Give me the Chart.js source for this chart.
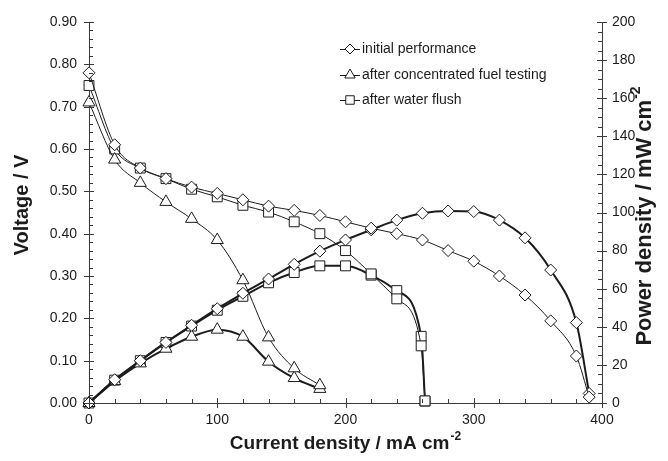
<!DOCTYPE html>
<html>
<head>
<meta charset="utf-8">
<script src="https://cdn.jsdelivr.net/npm/chart.js@4.4.0/dist/chart.umd.min.js"></script>
<style>
  html, body { margin: 0; padding: 0; background: #fff; }
  canvas { display: block; }
</style>
</head>
<body>
<canvas id="fcChart" width="668" height="461"></canvas>
<script>
// Courbes de polarisation et de puissance
const initialCurrent = [0, 20, 40, 60, 80, 100, 120, 140, 160, 180, 200, 220, 240, 260, 280, 300, 320, 340, 360, 380, 390];
const initialVoltage = [0.78, 0.61, 0.555, 0.53, 0.51, 0.495, 0.48, 0.465, 0.455, 0.443, 0.428, 0.413, 0.40, 0.385, 0.36, 0.335, 0.30, 0.255, 0.194, 0.111, 0.014];
const initialPower = [0, 12.2, 22.2, 31.8, 40.8, 49.5, 57.6, 65.1, 72.8, 79.7, 85.6, 90.9, 96, 99.6, 100.8, 100.5, 96, 86.7, 69.8, 42.2, 5.0];

const fuelCurrent = [0, 20, 40, 60, 80, 100, 120, 140, 160, 180];
const fuelVoltage = [0.71, 0.575, 0.52, 0.475, 0.435, 0.385, 0.29, 0.155, 0.082, 0.042];
const fuelPower = [0, 11.5, 20.8, 28.5, 34.8, 38.5, 34.8, 21.7, 13.1, 7.4];

const waterCurrent = [0, 20, 40, 60, 80, 100, 120, 140, 160, 180, 200, 220, 240, 259, 262];
const waterVoltage = [0.75, 0.60, 0.555, 0.53, 0.505, 0.487, 0.467, 0.451, 0.428, 0.40, 0.36, 0.305, 0.246, 0.135, 0.005];
const waterPower = [0, 12, 22.2, 31.8, 40.4, 48.7, 56, 63.1, 68.5, 72, 72, 67.1, 59, 35, 1];

const seriesNames = ['initial performance', 'after concentrated fuel testing', 'after water flush'];
const seriesMarkers = ['rectRot', 'triangle', 'rect'];
const markerRadius = { rectRot: 6, triangle: 7, rect: 7 };

const xTitle = ['Current density / mA cm', '-2'];
const yTitle = ['Voltage / V', ''];
const y2Title = ['Power density / mW cm', '-2'];

const ink = '#1c1c1c';
const axisColor = '#3a3a3a';
const tickFont = { family: '"Liberation Sans", Arial, sans-serif', size: 14 };

function pts(xs, ys) {
    return xs.map((x, i) => ({ x: x, y: ys[i] }));
}

function makeSet(xs, ys, marker, axis, width) {
    return {
        data: pts(xs, ys),
        yAxisID: axis,
        showLine: true,
        clip: false,
        borderColor: ink,
        borderWidth: width,
        cubicInterpolationMode: 'monotone',
        pointStyle: marker,
        pointRadius: markerRadius[marker],
        pointBackgroundColor: '#fff',
        pointBorderColor: ink,
        pointBorderWidth: 1,
        order: axis === 'y2' ? 2 : 1
    };
}

// Petits traits de graduation (majeurs et mineurs)
const ticksPlugin = {
    id: 'axisTicks',
    afterDraw(chart) {
        const ctx = chart.ctx;
        const area = chart.chartArea;
        const defs = [
            { id: 'x', minor: 20, major: 100 },
            { id: 'y', minor: 0.02, major: 0.1 },
            { id: 'y2', minor: 5, major: 20 }
        ];
        ctx.save();
        ctx.strokeStyle = axisColor;
        ctx.lineWidth = 1;
        defs.forEach(d => {
            const s = chart.scales[d.id];
            const n = Math.round((s.max - s.min) / d.minor);
            for (let i = 0; i <= n; i++) {
                const v = s.min + i * d.minor;
                const isMajor = Math.abs(v / d.major - Math.round(v / d.major)) < 1e-6;
                const inner = isMajor ? 5 : 4;
                const outer = isMajor ? 5 : 0;
                const p = Math.round(s.getPixelForValue(v)) + 0.5;
                ctx.beginPath();
                if (d.id === 'x') {
                    ctx.moveTo(p, area.bottom - inner);
                    ctx.lineTo(p, area.bottom + outer);
                } else if (d.id === 'y') {
                    ctx.moveTo(area.left + inner, p);
                    ctx.lineTo(area.left - outer, p);
                } else {
                    ctx.moveTo(area.right - inner, p);
                    ctx.lineTo(area.right + outer, p);
                }
                ctx.stroke();
            }
        });
        ctx.restore();
    }
};

// Titres des axes avec exposant
function drawTitle(ctx, parts, x, y, angle, size) {
    ctx.save();
    ctx.translate(x, y);
    ctx.rotate(angle);
    ctx.fillStyle = ink;
    ctx.textBaseline = 'middle';
    const mainFont = 'bold ' + size + 'px "Liberation Sans", Arial, sans-serif';
    const supFont = 'bold ' + Math.round(size * 0.62) + 'px "Liberation Sans", Arial, sans-serif';
    ctx.font = mainFont;
    const w1 = ctx.measureText(parts[0]).width;
    ctx.font = supFont;
    const w2 = parts[1] ? ctx.measureText(parts[1]).width + 1 : 0;
    const start = -(w1 + w2) / 2;
    ctx.font = mainFont;
    ctx.textAlign = 'left';
    ctx.fillText(parts[0], start, 0);
    if (parts[1]) {
        ctx.font = supFont;
        ctx.fillText(parts[1], start + w1 + 1, -size * 0.38);
    }
    ctx.restore();
}

const titlesPlugin = {
    id: 'axisTitles',
    afterDraw(chart) {
        const ctx = chart.ctx;
        const a = chart.chartArea;
        drawTitle(ctx, xTitle, (a.left + a.right) / 2, 444, 0, 19);
        drawTitle(ctx, yTitle, 22, 205, -Math.PI / 2, 20);
        drawTitle(ctx, y2Title, 645, 216, -Math.PI / 2, 22);
    }
};

// Légende : trait + symbole
const legendPlugin = {
    id: 'lineLegend',
    afterDraw(chart) {
        const ctx = chart.ctx;
        const lx = 350;
        const ys = [49, 75, 100];
        ctx.save();
        seriesNames.forEach((name, i) => {
            const y = ys[i];
            ctx.strokeStyle = ink;
            ctx.lineWidth = 1;
            ctx.beginPath();
            ctx.moveTo(lx - 10, y + 0.5);
            ctx.lineTo(lx + 10, y + 0.5);
            ctx.stroke();
            ctx.fillStyle = '#fff';
            const m = seriesMarkers[i];
            Chart.helpers.drawPoint(ctx, { pointStyle: m, radius: markerRadius[m] - 1, borderWidth: 1 }, lx, y);
            ctx.fillStyle = ink;
            ctx.font = '14px "Liberation Sans", Arial, sans-serif';
            ctx.textAlign = 'left';
            ctx.textBaseline = 'middle';
            ctx.fillText(name, lx + 12, y);
        });
        ctx.restore();
    }
};

const ctx = document.getElementById('fcChart').getContext('2d');
new Chart(ctx, {
    type: 'scatter',
    data: {
        datasets: [
            makeSet(initialCurrent, initialPower, 'rectRot', 'y2', 2),
            makeSet(fuelCurrent, fuelPower, 'triangle', 'y2', 2),
            makeSet(waterCurrent, waterPower, 'rect', 'y2', 2),
            makeSet(initialCurrent, initialVoltage, 'rectRot', 'y', 1),
            makeSet(fuelCurrent, fuelVoltage, 'triangle', 'y', 1),
            makeSet(waterCurrent, waterVoltage, 'rect', 'y', 1)
        ]
    },
    options: {
        responsive: false,
        animation: false,
        layout: { padding: { top: 22, left: 0, right: 0, bottom: 0 } },
        plugins: {
            legend: { display: false },
            tooltip: { enabled: false }
        },
        scales: {
            x: {
                type: 'linear',
                position: 'bottom',
                min: 0,
                max: 400,
                ticks: { stepSize: 100, color: ink, font: tickFont, padding: 9, maxRotation: 0 },
                grid: { display: false, drawTicks: false },
                border: { display: true, color: axisColor, width: 1 },
                afterFit: s => { s.height = 58; }
            },
            y: {
                position: 'left',
                min: 0,
                max: 0.9,
                ticks: {
                    stepSize: 0.1,
                    color: ink,
                    font: tickFont,
                    padding: 12,
                    callback: v => v.toFixed(2)
                },
                grid: { display: false, drawTicks: false },
                border: { display: true, color: axisColor, width: 1 },
                afterFit: s => { s.width = 89; }
            },
            y2: {
                position: 'right',
                min: 0,
                max: 200,
                ticks: { stepSize: 20, color: ink, font: tickFont, padding: 10 },
                grid: { display: false, drawTicks: false },
                border: { display: true, color: axisColor, width: 1 },
                afterFit: s => { s.width = 66; }
            }
        }
    },
    plugins: [ticksPlugin, titlesPlugin, legendPlugin]
});
</script>
</body>
</html>
